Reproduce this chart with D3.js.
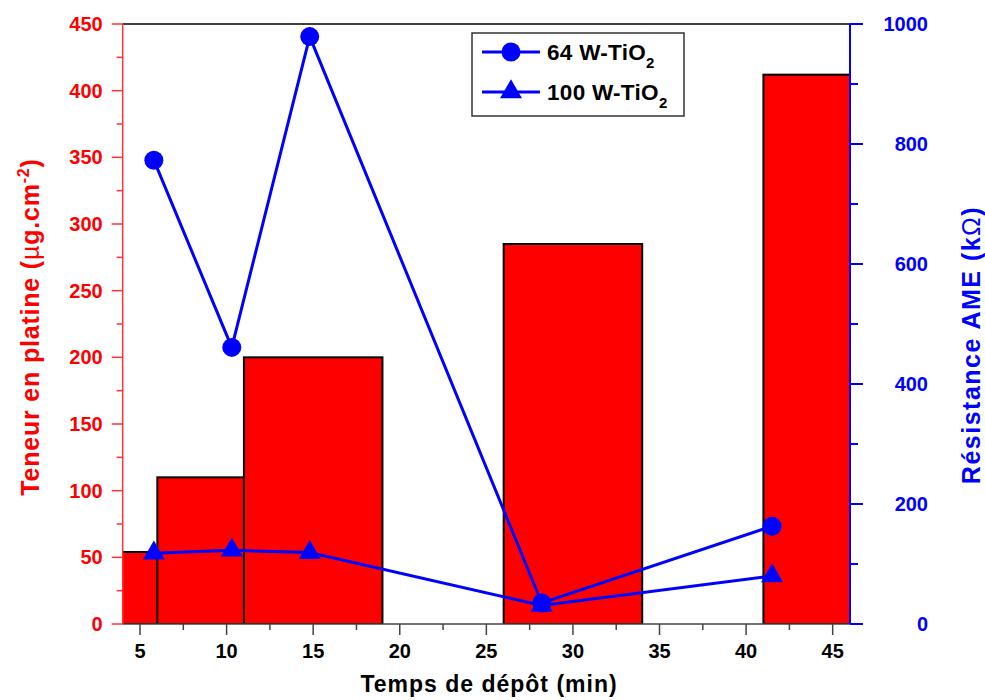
<!DOCTYPE html>
<html><head><meta charset="utf-8">
<script src="https://cdn.jsdelivr.net/npm/d3@7"></script>
<style>body{margin:0;background:#fff}svg{font-family:"Liberation Sans",Arial,sans-serif;font-weight:bold}</style>
</head><body><svg id="c" width="985" height="700"></svg>
<script>
// Data
const barCenters = [5, 10, 15, 30, 45];
const barWidth = 8;
const platine = [54, 110, 200, 285, 412];
const timePts = [5.8, 10.3, 14.8, 28.2, 41.5];
const res64 = [773, 461, 979, 35, 163];
const res100 = [118, 123, 119, 31, 80];
const seriesNames = ["64 W-TiO", "100 W-TiO"];
const xTicks = [5, 10, 15, 20, 25, 30, 35, 40, 45];
const yLeftTicks = [0, 50, 100, 150, 200, 250, 300, 350, 400, 450];
const yRightTicks = [0, 200, 400, 600, 800, 1000];

const svg = d3.select("#c");
const L = 122.7, R = 850, T = 24, B = 624;
const x = d3.scaleLinear().domain([4, 46]).range([L, R]);
const yL = d3.scaleLinear().domain([0, 450]).range([B, T]);
const yR = d3.scaleLinear().domain([0, 1000]).range([B, T]);

svg.append("defs").append("clipPath").attr("id", "clip")
  .append("rect").attr("x", L).attr("y", T).attr("width", R - L).attr("height", B - T);

// bars
svg.append("g").attr("clip-path", "url(#clip)")
  .selectAll("rect").data(barCenters).join("rect")
  .attr("x", (d) => x(d - barWidth / 2))
  .attr("width", (d) => x(d + barWidth / 2) - x(d - barWidth / 2))
  .attr("y", (d, i) => yL(platine[i]))
  .attr("height", (d, i) => yL(0) - yL(platine[i]))
  .attr("fill", "#ff0000").attr("stroke", "#000").attr("stroke-width", 2);

// top frame
svg.append("line").attr("x1", L).attr("x2", R).attr("y1", T).attr("y2", T).attr("stroke", "#000").attr("stroke-width", 1.5);

// bottom axis
const gx = svg.append("g").attr("transform", `translate(0,${B})`);
gx.append("line").attr("x1", L).attr("x2", R).attr("stroke", "#444").attr("stroke-width", 1.5);
gx.selectAll(".mj").data(xTicks).join("line").attr("x1", x).attr("x2", x).attr("y1", 0).attr("y2", 11).attr("stroke", "#444").attr("stroke-width", 1.5);
gx.selectAll(".mn").data(d3.range(7.5, 46, 5)).join("line").attr("x1", x).attr("x2", x).attr("y1", 0).attr("y2", 6).attr("stroke", "#444").attr("stroke-width", 1.5);
gx.selectAll("text").data(xTicks).join("text").attr("x", x).attr("y", 34).attr("text-anchor", "middle").attr("font-size", 20).attr("fill", "#000").text(d => d);

// left axis
const gl = svg.append("g").attr("transform", `translate(${L},0)`);
gl.append("line").attr("y1", T).attr("y2", B).attr("stroke", "#ff3333").attr("stroke-width", 1.5);
gl.selectAll(".mj").data(yLeftTicks).join("line").attr("x1", -11).attr("x2", 0).attr("y1", yL).attr("y2", yL).attr("stroke", "#ff3333").attr("stroke-width", 1.5);
gl.selectAll(".mn").data(d3.range(25, 450, 50)).join("line").attr("x1", -6).attr("x2", 0).attr("y1", yL).attr("y2", yL).attr("stroke", "#ff3333").attr("stroke-width", 1.5);
gl.selectAll("text").data(yLeftTicks).join("text").attr("x", -20).attr("y", d => yL(d) + 7).attr("text-anchor", "end").attr("font-size", 20).attr("fill", "#ff0000").text(d => d);

// right axis
const gr = svg.append("g").attr("transform", `translate(${R},0)`);
gr.append("line").attr("y1", T).attr("y2", B).attr("stroke", "#0000ff").attr("stroke-width", 2);
gr.selectAll(".mj").data(yRightTicks).join("line").attr("x1", 0).attr("x2", 13).attr("y1", yR).attr("y2", yR).attr("stroke", "#0000ff").attr("stroke-width", 2);
gr.selectAll(".mn").data(d3.range(100, 1000, 200)).join("line").attr("x1", 0).attr("x2", 8).attr("y1", yR).attr("y2", yR).attr("stroke", "#0000ff").attr("stroke-width", 2);
gr.selectAll("text").data(yRightTicks).join("text").attr("x", 78).attr("y", d => yR(d) + 7).attr("text-anchor", "end").attr("font-size", 20).attr("fill", "#0000ff").text(d => d);

// lines
const line = d3.line().x((d, i) => x(timePts[i])).y(d => yR(d));
[res64, res100].forEach((s, k) => {
  svg.append("path").datum(s).attr("d", line).attr("fill", "none").attr("stroke", "#0000ff").attr("stroke-width", 3);
});
svg.selectAll(".c64").data(res64).join("circle").attr("cx", (d, i) => x(timePts[i])).attr("cy", yR).attr("r", 9.5).attr("fill", "#0000ff");
const tri = d3.symbol().type(d3.symbolTriangle).size(210);
svg.selectAll(".t100").data(res100).join("path").attr("d", tri).attr("transform", (d, i) => `translate(${x(timePts[i])},${yR(d)})`).attr("fill", "#0000ff");

// legend
const lg = svg.append("g");
lg.append("rect").attr("x", 472).attr("y", 33).attr("width", 212).attr("height", 83).attr("fill", "#fff").attr("stroke", "#333").attr("stroke-width", 1.5);
const rowsY = [52, 92];
seriesNames.forEach((n, i) => {
  lg.append("line").attr("x1", 482).attr("x2", 540).attr("y1", rowsY[i]).attr("y2", rowsY[i]).attr("stroke", "#0000ff").attr("stroke-width", 3);
  if (i === 0) lg.append("circle").attr("cx", 511).attr("cy", rowsY[i]).attr("r", 9.5).attr("fill", "#0000ff");
  else lg.append("path").attr("d", tri).attr("transform", `translate(511,${rowsY[i]})`).attr("fill", "#0000ff");
  const t = lg.append("text").attr("x", 547).attr("y", rowsY[i] + 8).attr("font-size", 22.5).attr("letter-spacing", 0.3).attr("fill", "#000").text(n);
  t.append("tspan").attr("font-size", 15).attr("dy", 8).text("2");
});

// axis titles
svg.append("text").attr("x", 489).attr("y", 692).attr("text-anchor", "middle").attr("font-size", 23).attr("letter-spacing", 1).attr("fill", "#000").text("Temps de dépôt (min)");
const lt = svg.append("text").attr("transform", "translate(39,327) rotate(-90)").attr("text-anchor", "middle").attr("font-size", 25).attr("letter-spacing", 0.8).attr("fill", "#ff0000");
lt.append("tspan").text("Teneur en platine (");
lt.append("tspan").attr("font-weight", "normal").text("µ");
lt.append("tspan").text("g.cm");
lt.append("tspan").attr("font-size", 16).attr("dy", -10).text("-2");
lt.append("tspan").attr("dy", 10).text(")");
const rt = svg.append("text").attr("transform", "translate(980,345) rotate(-90)").attr("text-anchor", "middle").attr("font-size", 25).attr("letter-spacing", 1.5).attr("fill", "#0000ff");
rt.append("tspan").text("Résistance AME (k");
rt.append("tspan").attr("font-weight", "normal").text("Ω");
rt.append("tspan").text(")");
</script></body></html>
